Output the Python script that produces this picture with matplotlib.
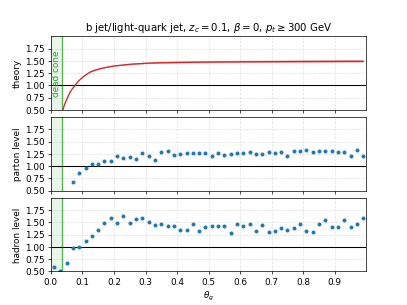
import numpy as np
import matplotlib
matplotlib.use("Agg")
from matplotlib import pyplot as plt

# theory curve
theta_th = [0.038, 0.042, 0.046, 0.050, 0.055, 0.061, 0.068, 0.077, 0.088, 0.100,
            0.112, 0.124, 0.140, 0.156, 0.178, 0.200, 0.25, 0.30, 0.345, 0.40,
            0.50, 0.60, 0.70, 0.80, 0.90, 0.99]
theory = [0.50, 0.58, 0.65, 0.71, 0.78, 0.86, 0.93, 1.00, 1.09, 1.16,
          1.22, 1.27, 1.31, 1.34, 1.37, 1.395, 1.43, 1.45, 1.46, 1.467,
          1.475, 1.48, 1.483, 1.486, 1.488, 1.49]
theory_lo = [0.50, 0.58, 0.65, 0.71, 0.78, 0.86, 0.93, 1.00, 1.09, 1.16,
             1.22, 1.265, 1.305, 1.335, 1.365, 1.39, 1.42, 1.44, 1.45, 1.455,
             1.462, 1.466, 1.468, 1.47, 1.472, 1.474]
theory_hi = [0.50, 0.58, 0.65, 0.71, 0.78, 0.86, 0.93, 1.00, 1.09, 1.165,
             1.23, 1.28, 1.325, 1.355, 1.39, 1.415, 1.45, 1.475, 1.488, 1.497,
             1.507, 1.513, 1.518, 1.522, 1.526, 1.53]

# bin centres
theta_pts = [0.01, 0.03, 0.05, 0.07, 0.09, 0.11, 0.13, 0.15, 0.17, 0.19,
             0.21, 0.23, 0.25, 0.27, 0.29, 0.31, 0.33, 0.35, 0.37, 0.39,
             0.41, 0.43, 0.45, 0.47, 0.49, 0.51, 0.53, 0.55, 0.57, 0.59,
             0.61, 0.63, 0.65, 0.67, 0.69, 0.71, 0.73, 0.75, 0.77, 0.79,
             0.81, 0.83, 0.85, 0.87, 0.89, 0.91, 0.93, 0.95, 0.97, 0.99]

parton = [np.nan, np.nan, np.nan, 0.685, 0.853, 0.97, 1.035, 1.05, 1.10, 1.11,
          1.20, 1.16, 1.19, 1.155, 1.26, 1.20, 1.12, 1.29, 1.31, 1.23,
          1.24, 1.26, 1.27, 1.27, 1.26, 1.20, 1.26, 1.23, 1.245, 1.27,
          1.26, 1.28, 1.24, 1.24, 1.28, 1.265, 1.29, 1.20, 1.31, 1.315,
          1.32, 1.29, 1.30, 1.30, 1.31, 1.29, 1.29, 1.21, 1.32, 1.20]

hadron = [0.59, 0.51, 0.68, 0.98, 1.00, 1.13, 1.215, 1.35, 1.48, 1.59,
          1.49, 1.63, 1.48, 1.57, 1.60, 1.51, 1.45, 1.465, 1.42, 1.42,
          1.35, 1.34, 1.465, 1.33, 1.40, 1.42, 1.42, 1.42, 1.285, 1.465,
          1.42, 1.465, 1.32, 1.45, 1.305, 1.32, 1.38, 1.34, 1.38, 1.465,
          1.33, 1.31, 1.465, 1.54, 1.41, 1.40, 1.55, 1.40, 1.465, 1.59]

dead_cone = 0.035

fig, axes = plt.subplots(3, 1, sharex=True, figsize=(6.4, 4.8))
fig.subplots_adjust(hspace=0.1)

for ax in axes:
    ax.axvspan(0, dead_cone, color='tab:green', alpha=0.1, lw=0)
    ax.axvline(dead_cone, color='tab:green', alpha=0.8)
    ax.axhline(1.0, color='black', lw=1.2)
    ax.set_ylim(0.5, 2.0)
    ax.set_yticks([0.5, 0.75, 1.0, 1.25, 1.5, 1.75])
    ax.grid(True, color='lightgray', ls='--', lw=0.8, alpha=0.7)
    ax.set_axisbelow(True)

ax1, ax2, ax3 = axes

ax1.fill_between(theta_th, theory_lo, theory_hi, color='tab:red', alpha=0.35, lw=0)
ax1.plot(theta_th, theory, color='tab:red')
ax1.text(dead_cone / 2, 1.25, "dead cone", color='tab:green', rotation=90,
         ha='center', va='center')
ax1.set_ylabel("theory")
ax1.set_title(r"b jet/light-quark jet, $z_c=0.1$, $\beta=0$, $p_t\geq300$ GeV",
              fontsize=11.5)

ax2.plot(theta_pts, parton, '.', color='tab:blue', ms=7)
ax2.set_ylabel("parton level")

ax3.plot(theta_pts, hadron, '.', color='tab:blue', ms=7)
ax3.set_ylabel("hadron level")
ax3.set_xlim(0, 1.0)
ax3.set_xticks(np.arange(0, 1.0, 0.1))
ax3.set_xlabel(r"$\theta_g$")

fig.savefig("out.png", dpi=407 / 6.4)
